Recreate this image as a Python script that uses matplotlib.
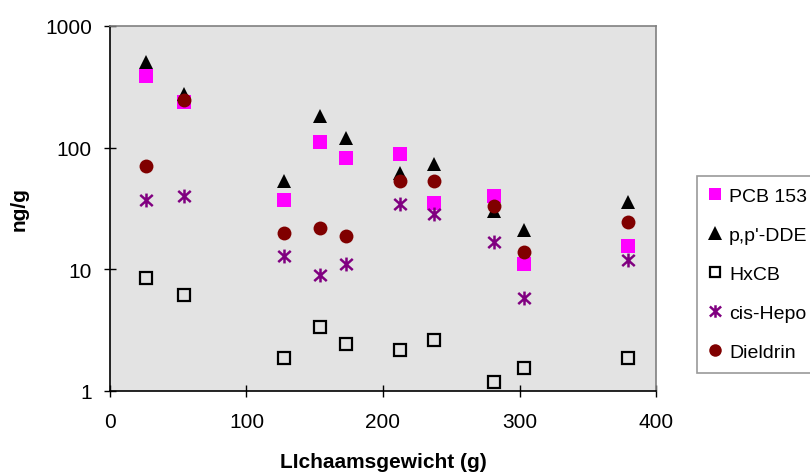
import matplotlib
matplotlib.use("Agg")
import matplotlib.pyplot as plt
from matplotlib.path import Path
from matplotlib.ticker import FixedLocator, NullLocator, FixedFormatter

plt.rcParams['font.family'] = ['Liberation Sans', 'DejaVu Sans']

weight = [26.4, 54.2, 127.5, 153.8, 172.9, 212.5, 237.4, 281.3, 303.3, 379.5]
pcb153 = [390, 238, 37, 112, 83, 89, 35, 40, 11, 15.6]
dde = [508, 276, 53.5, 181, 119, 62, 73, 30, 21, 35.5]
hxcb = [8.5, 6.1, 1.87, 3.34, 2.43, 2.19, 2.64, 1.19, 1.55, 1.87]
cis_hepo = [37, 40, 12.9, 8.9, 11, 34.4, 28.5, 16.9, 5.8, 11.9]
dieldrin = [71, 248, 19.8, 21.8, 18.9, 52.8, 52.8, 33.3, 14, 24.6]

xticks = [0, 100, 200, 300, 400]
yticks = [1, 10, 100, 1000]
ytick_labels = ["1", "10", "100", "1000"]

# vertical bar plus an X: the Excel-style star marker
star_marker = Path([(0, -1), (0, 1), (-0.9, -0.8), (0.9, 0.8), (-0.9, 0.8), (0.9, -0.8)],
                   [Path.MOVETO, Path.LINETO, Path.MOVETO, Path.LINETO,
                    Path.MOVETO, Path.LINETO])

fig = plt.figure(figsize=(8.1, 4.77), dpi=100)
ax = fig.add_axes([110/810, 1-392/477, (656-110)/810, (392-27)/477])
ax.set_facecolor('#E3E3E3')

ax.plot(weight, pcb153, linestyle='none', marker='s', markersize=9.5,
        color='#FF00FF', markeredgewidth=0, label='PCB 153')
ax.plot(weight, dde, linestyle='none', marker='^', markersize=10.5,
        color='black', markeredgewidth=0, label="p,p'-DDE")
ax.plot(weight, hxcb, linestyle='none', marker='s', markersize=8.5,
        markerfacecolor='none', markeredgecolor='black', markeredgewidth=1.6,
        label='HxCB')
ax.plot(weight, cis_hepo, linestyle='none', marker=star_marker, markersize=10,
        color='#800080', markeredgewidth=1.8, label='cis-Hepo')
ax.plot(weight, dieldrin, linestyle='none', marker='o', markersize=10,
        color='#800000', markeredgewidth=0, label='Dieldrin')

ax.set_yscale('log')
ax.set_xlim(0, 400)
ax.set_ylim(1, 1000)
ax.xaxis.set_major_locator(FixedLocator(xticks))
ax.yaxis.set_major_locator(FixedLocator(yticks))
ax.yaxis.set_major_formatter(FixedFormatter(ytick_labels))
ax.yaxis.set_minor_locator(NullLocator())

ax.tick_params(axis='both', which='major', direction='inout', length=8,
               width=1, labelsize=15, colors='black')
ax.tick_params(axis='x', pad=11)
ax.tick_params(axis='y', pad=9)

for s in ['left', 'bottom']:
    ax.spines[s].set_color('black')
    ax.spines[s].set_linewidth(1.2)
for s in ['top', 'right']:
    ax.spines[s].set_color('#808080')
    ax.spines[s].set_linewidth(1.2)

ax.set_xlabel('LIchaamsgewicht (g)', fontsize=15, fontweight='bold', labelpad=15)
ax.set_ylabel('ng/g', fontsize=15, fontweight='bold', labelpad=12)

leg = fig.legend(loc='upper left', bbox_to_anchor=(697/810, 1-177/477),
                 frameon=True, fancybox=False, fontsize=14,
                 handlelength=0.6, handletextpad=0.45, labelspacing=1.1,
                 borderpad=0.6, borderaxespad=0, markerscale=0.9)
leg.get_frame().set_edgecolor('#808080')
leg.get_frame().set_linewidth(1.2)
leg.get_frame().set_facecolor('white')

fig.savefig('out.png', dpi=100)
